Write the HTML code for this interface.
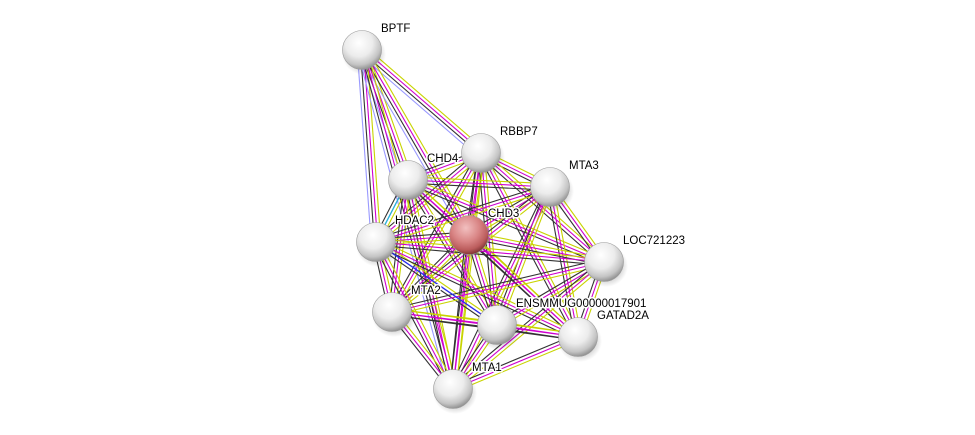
<!DOCTYPE html>
<html><head><meta charset="utf-8"><style>
html,body{margin:0;padding:0;background:#fff;width:975px;height:435px;overflow:hidden}
svg{display:block}
text{font-family:"Liberation Sans",sans-serif;font-size:11.5px;fill:#000;stroke:#fff;stroke-width:3px;paint-order:stroke;stroke-linejoin:round}
</style></head><body>
<svg id="s" width="975" height="435" viewBox="0 0 975 435">
<defs>
<radialGradient id="g" cx="42%" cy="32%" r="70%">
<stop offset="0" stop-color="#ffffff"/><stop offset="0.5" stop-color="#ececec"/><stop offset="0.8" stop-color="#c4c4c4"/><stop offset="1" stop-color="#8c8c8c"/></radialGradient>
<radialGradient id="r" cx="42%" cy="32%" r="70%">
<stop offset="0" stop-color="#f2c0c0"/><stop offset="0.5" stop-color="#d98585"/><stop offset="0.8" stop-color="#bb5c5c"/><stop offset="1" stop-color="#7a3030"/></radialGradient>
<radialGradient id="sh" cx="50%" cy="50%" r="50%"><stop offset="0.6" stop-color="#000" stop-opacity="0.2"/><stop offset="1" stop-color="#000" stop-opacity="0"/></radialGradient>
</defs>
<g id="edges"></g><g id="nodes"></g>
</svg>
<script>
var N={BPTF:[362,50],RBBP7:[481,153],CHD4:[408,180],MTA3:[550,187],CHD3:[469,235],HDAC2:[376,242],LOC721223:[604,262],MTA2:[392,312],ENSMMUG00000017901:[497,325],GATAD2A:[578,337],MTA1:[453,389]};
var keys=Object.keys(N);
var skip={"BPTF-MTA3":1,"BPTF-LOC721223":1,"BPTF-GATAD2A":1,"BPTF-ENSMMUG00000017901":1,"BPTF-MTA2":1};
var cols=["#c8d400","#d000d0","#333333","#9999ff"];
var e="";
for(var i=0;i<keys.length;i++)for(var j=i+1;j<keys.length;j++){
 var a=keys[i],b=keys[j];if(skip[a+"-"+b]||skip[b+"-"+a])continue;
 var p=N[a],q=N[b],dx=q[0]-p[0],dy=q[1]-p[1],L=Math.hypot(dx,dy),nx=-dy/L,ny=dx/L;
 var n=(a=="BPTF"||b=="BPTF")?4:3;
 for(var k=0;k<n;k++){var o=(k-(n-1)/2)*3.2;
  e+='<line x1="'+(p[0]+nx*o)+'" y1="'+(p[1]+ny*o)+'" x2="'+(q[0]+nx*o)+'" y2="'+(q[1]+ny*o)+'" stroke="'+cols[k]+'" stroke-width="1.1"/>';}
}
e+='<line x1="376" y1="242" x2="497" y2="325" stroke="#2233ee" stroke-width="1.3"/>';
e+='<line x1="376" y1="242" x2="408" y2="180" stroke="#22bbdd" stroke-width="1.3"/>';
document.getElementById("edges").innerHTML=e;
var nd="";
for(var i=0;i<keys.length;i++){var k=keys[i],p=N[k];
 nd+='<ellipse cx="'+(p[0]+2)+'" cy="'+(p[1]+4)+'" rx="22" ry="21" fill="url(#sh)"/>';
 nd+='<circle cx="'+p[0]+'" cy="'+p[1]+'" r="19.5" fill="url('+(k=="CHD3"?"#r":"#g")+')" stroke="#999" stroke-width="0.6"/>';}
for(var i=0;i<keys.length;i++){var k=keys[i],p=N[k];
 nd+='<text x="'+(p[0]+19)+'" y="'+(p[1]-18)+'">'+k+'</text>';}
document.getElementById("nodes").innerHTML=nd;
</script>
</body></html>
